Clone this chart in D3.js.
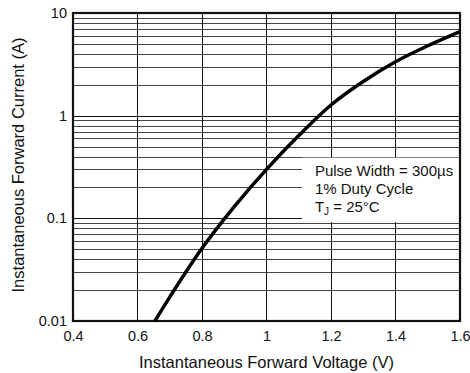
<!DOCTYPE html>
<meta charset="utf-8">
<style>
body { margin: 0; background: #fff; }
text { font-family: "Liberation Sans", Arial, sans-serif; fill: #111; }
.grid line { shape-rendering: crispEdges; }
</style>
<body>
<script src="https://cdn.jsdelivr.net/npm/d3@7"></script>
<script>

// curve
var voltage = [0.654, 0.7, 0.8, 0.9, 1.0, 1.1, 1.2, 1.3, 1.4, 1.5, 1.6];
var current = [0.01, 0.0171, 0.051, 0.13, 0.3, 0.64, 1.27, 2.15, 3.35, 4.8, 6.6];

var xTicks = [0.4, 0.6, 0.8, 1.0, 1.2, 1.4, 1.6];
var yTicks = [0.01, 0.1, 1, 10];
var notes = ["Pulse Width = 300\u00b5s", "1% Duty Cycle"];

var margin = {top: 13, right: 10, bottom: 52, left: 73},
    width = 470 - margin.left - margin.right,
    height = 373 - margin.top - margin.bottom;

var x = d3.scaleLinear().domain([0.4, 1.6]).range([0, width]);
var y = d3.scaleLog().domain([0.01, 10]).range([height, 0]);

var svg = d3.select("body").append("svg")
    .attr("width", 470)
    .attr("height", 373)
  .append("g")
    .attr("transform", "translate(" + margin.left + "," + margin.top + ")");

// horizontal grid: every 1..9 in each decade
var minor = [];
yTicks.slice(0, -1).forEach(function(d) {
  for (var k = 1; k < 10; k++) minor.push(d * k);
});

var grid = svg.append("g").attr("class", "grid");
grid.selectAll(".h").data(minor).enter().append("line")
    .attr("x1", 0).attr("x2", width)
    .attr("y1", function(d) { return Math.round(y(d)) + 0.5; })
    .attr("y2", function(d) { return Math.round(y(d)) + 0.5; })
    .attr("stroke", function(d) { return yTicks.indexOf(d) >= 0 ? "#111" : "#444"; })
    .attr("stroke-width", function(d) { return yTicks.indexOf(d) >= 0 ? 1.6 : 1; });

grid.selectAll(".v").data(xTicks.slice(1, -1)).enter().append("line")
    .attr("y1", 0).attr("y2", height)
    .attr("x1", function(d) { return Math.round(x(d)) + 0.5; })
    .attr("x2", function(d) { return Math.round(x(d)) + 0.5; })
    .attr("stroke", "#111").attr("stroke-width", 1);

// white box behind the note
svg.append("rect")
    .attr("x", x(1.11)).attr("y", y(0.39))
    .attr("width", x(1.6) - x(1.11))
    .attr("height", y(0.092) - y(0.39))
    .attr("fill", "#fff");

// frame
svg.append("rect")
    .attr("width", width).attr("height", height)
    .attr("fill", "none").attr("stroke", "#111").attr("stroke-width", 2.2);

// curve
var line = d3.line()
    .x(function(d, i) { return x(voltage[i]); })
    .y(function(d) { return y(d); })
    .curve(d3.curveCatmullRom.alpha(0.5));

svg.append("path")
    .datum(current)
    .attr("d", line)
    .attr("fill", "none")
    .attr("stroke", "#000")
    .attr("stroke-width", 3.5);

// axes (labels only)
var xAxis = svg.append("g")
    .attr("transform", "translate(0," + height + ")")
    .call(d3.axisBottom(x).tickValues(xTicks).tickSize(0).tickPadding(10)
      .tickFormat(function(d) { return String(+d.toFixed(1)); }));
var yAxis = svg.append("g")
    .call(d3.axisLeft(y).tickValues(yTicks).tickSize(0).tickPadding(6)
      .tickFormat(function(d) { return String(d); }));
[xAxis, yAxis].forEach(function(a) {
  a.select(".domain").remove();
  a.selectAll("text").style("font-size", "14.5px").attr("font-family", null).attr("fill", "#111");
});

// note text
var nx = x(1.15);
svg.selectAll(".note").data(notes).enter().append("text")
    .attr("x", nx)
    .attr("y", function(d, i) { return 163 + i * 18; })
    .style("font-size", "15px")
    .text(function(d) { return d; });

var tj = svg.append("text")
    .attr("x", nx).attr("y", 163 + 2 * 18)
    .style("font-size", "15px");
tj.append("tspan").text("T");
tj.append("tspan").attr("dy", 3).style("font-size", "10px").text("J");
tj.append("tspan").attr("dy", -3).text(" = 25\u00b0C");

// axis titles
svg.append("text")
    .attr("x", width / 2).attr("y", height + 47)
    .attr("text-anchor", "middle")
    .style("font-size", "16.5px")
    .text("Instantaneous Forward Voltage (V)");

svg.append("text")
    .attr("transform", "translate(" + (-49) + "," + (height / 2 - 2) + ") rotate(-90)")
    .attr("text-anchor", "middle")
    .style("font-size", "16.5px")
    .text("Instantaneous Forward Current (A)");

</script>
</body>
